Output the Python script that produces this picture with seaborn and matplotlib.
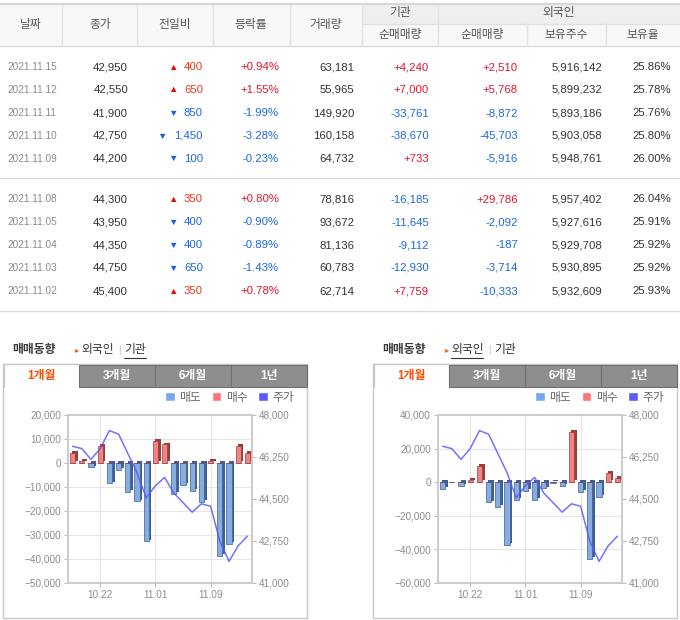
import numpy as np
import pandas as pd
import matplotlib
matplotlib.use("Agg")
import matplotlib.pyplot as plt
import seaborn as sns
from matplotlib import patheffects
from matplotlib.patches import Rectangle, Patch
from matplotlib.lines import Line2D
from matplotlib.ticker import StrMethodFormatter

sns.set_theme(style="white")
plt.rcParams["font.family"] = ["Liberation Sans", "Noto Sans CJK KR", "DejaVu Sans"]

# ---- table data (newest first) ----
dates = ["2021.11.15", "2021.11.12", "2021.11.11", "2021.11.10", "2021.11.09",
         "2021.11.08", "2021.11.05", "2021.11.04", "2021.11.03", "2021.11.02"]
close = [42950, 42550, 41900, 42750, 44200, 44300, 43950, 44350, 44750, 45400]
change = [400, 650, -850, -1450, -100, 350, -400, -400, -650, 350]
rate = [0.94, 1.55, -1.99, -3.28, -0.23, 0.80, -0.90, -0.89, -1.43, 0.78]
volume = [63181, 55965, 149920, 160158, 64732, 78816, 93672, 81136, 60783, 62714]
inst_net = [4240, 7000, -33761, -38670, 733, -16185, -11645, -9112, -12930, 7759]
frgn_net = [2510, 5768, -8872, -45703, -5916, 29786, -2092, -187, -3714, -10333]
frgn_hold = [5916142, 5899232, 5893186, 5903058, 5948761, 5957402, 5927616, 5929708, 5930895, 5932609]
frgn_ratio = [25.86, 25.78, 25.76, 25.80, 26.00, 26.04, 25.91, 25.92, 25.92, 25.93]

# ---- chart data (oldest first, 1 month) ----
chart_dates = ["10.19", "10.20", "10.21", "10.22", "10.25", "10.26", "10.27", "10.28", "10.29",
               "11.01", "11.02", "11.03", "11.04", "11.05", "11.08", "11.09", "11.10", "11.11",
               "11.12", "11.15"]
inst_chart = [4300, 900, -1800, 7000, -8500, -3000, -12000, -16000, -32700, 9200, 7759, -12930,
              -9112, -11645, -16185, 733, -38670, -33761, 7000, 4240]
frgn_chart = [-3800, 300, -2000, 1300, 9600, -12000, -14600, -37500, -10300, -5000, -10333, -3714,
              -187, -2092, 29786, -5916, -45703, -8872, 5768, 2510]
price = [46700, 46600, 46150, 46600, 47350, 47200, 46400, 45600, 44550, 45050, 45400, 44750,
         44350, 43950, 44300, 44200, 42750, 41900, 42550, 42950]
xtick_dates = ["10.22", "11.01", "11.09"]

W, H = 680, 620
fig = plt.figure(figsize=(6.8, 6.2), dpi=100)

RED = "#e8132b"
RED2 = "#e8381e"
BLUE = "#1d66e6"
DARK = "#333333"


def T(x, y, s, ha="left", size=8.5, color=DARK, weight="normal", **kw):
    return fig.text(x / W, 1 - y / H, s, ha=ha, va="center", size=size,
                    color=color, weight=weight, **kw)


def hline(x0, x1, y, color="#dddddd", lw=1.0):
    fig.add_artist(Line2D([x0 / W, x1 / W], [1 - y / H] * 2, color=color, lw=lw))


def vline(x, y0, y1, color="#e2e2e2", lw=1.0):
    fig.add_artist(Line2D([x / W] * 2, [1 - y0 / H, 1 - y1 / H], color=color, lw=lw))


def box(x, y, w, h, fc, ec="none", lw=0.8, z=0):
    fig.add_artist(Rectangle((x / W, 1 - (y + h) / H), w / W, h / H, facecolor=fc,
                             edgecolor=ec, lw=lw, transform=fig.transFigure, zorder=z))


# ---- table header ----
box(0, 4, 680, 42, "#f8f8f8")
box(362, 4, 318, 20, "#efefef")
hline(0, 680, 3.5, "#d6d6d6", 1.6)
hline(0, 680, 46, "#dddddd")
hline(362, 680, 24, "#e0e0e0")
for x in [62, 137, 213, 290, 362, 438]:
    vline(x, 4, 46)
for x in [527, 606]:
    vline(x, 24, 46)
hdr = [(31, "날짜"), (100, "종가"), (175, "전일비"), (251, "등락률"), (326, "거래량")]
for x, s in hdr:
    T(x, 25, s, ha="center", size=8.5, color="#555555")
T(400, 13, "기관", ha="center", size=8.5, color="#555555")
T(559, 13, "외국인", ha="center", size=8.5, color="#555555")
for x, s in [(400, "순매매량"), (482, "순매매량"), (566, "보유주수"), (643, "보유율")]:
    T(x, 35, s, ha="center", size=8.5, color="#555555")

# ---- table rows ----
row_y = [67, 90, 113, 136, 158.5, 199.5, 222, 245, 268, 291]
for i, y in enumerate(row_y):
    T(7, y, dates[i], size=7.2, color="#8a8a8a")
    T(128, y, f"{close[i]:,}", ha="right", size=8.2)
    c = change[i]
    tri = "\u25b2" if c > 0 else "\u25bc"
    col = RED2 if c > 0 else BLUE
    num = f"{abs(c):,}"
    T(203, y, num, ha="right", size=8.2, color=col)
    T(203 - 6.2 * len(num) + (1.5 if "," in num else 0) - 7, y, tri,
      ha="right", size=6.8, color="#dd1111" if c > 0 else "#1a5fd8")
    T(279, y, f"{rate[i]:+.2f}%", ha="right", size=8.2, color=RED if rate[i] > 0 else BLUE)
    T(354, y, f"{volume[i]:,}", ha="right", size=8.2)
    T(429, y, f"{inst_net[i]:+,}", ha="right", size=8.2, color=RED if inst_net[i] > 0 else BLUE)
    T(518, y, f"{frgn_net[i]:+,}", ha="right", size=8.2, color=RED if frgn_net[i] > 0 else BLUE)
    T(602, y, f"{frgn_hold[i]:,}", ha="right", size=8.2)
    T(671, y, f"{frgn_ratio[i]:.2f}%", ha="right", size=8.2)
hline(0, 680, 178.5, "#dcdcdc")
hline(0, 680, 310.5, "#dcdcdc")

# ---- trading trend charts ----
SELL_C, BUY_C, LINE_C = "#78a9ef", "#ff7474", "#5a5aff"


def trend_panel(ox, values, ylim, yticks, underline_frgn):
    # section title + links
    T(ox + 12, 350, "매매동향", size=8.5, weight="bold", color="#3a3a3a")
    T(ox + 75, 350, "\u25b8", size=6, color="#ff5a00", family="DejaVu Sans")
    T(ox + 81, 350, "외국인", size=8.5, color="#333333")
    T(ox + 118, 350, "|", size=7, color="#bbbbbb")
    T(ox + 124, 350, "기관", size=8.5, color="#333333")
    if underline_frgn:
        hline(ox + 81, ox + 113, 358, "#333333", 0.8)
    else:
        hline(ox + 124, ox + 146, 358, "#333333", 0.8)

    # panel + tabs
    box(ox + 3, 364, 304, 254, "white", "#c8c8c8", 1.0)
    tabs = [(4, 79, "1개월"), (79, 155, "3개월"), (155, 231, "6개월"), (231, 307, "1년")]
    for j, (a, b, lab) in enumerate(tabs):
        if j == 0:
            box(ox + a, 363.5, b - a, 23, "white", "none", z=1)
            vline(ox + a, 363.5, 387, "#c8c8c8")
            hline(ox + a, ox + b, 363.5, "#c8c8c8")
            T(ox + (a + b) / 2, 376, lab, ha="center", size=8.5, weight="bold", color="#ff4a00")
        else:
            box(ox + a, 365, b - a, 22, "#8e8e8e", "#6f6f6f", 0.8, z=1)
            T(ox + (a + b) / 2, 376, lab, ha="center", size=8.5, weight="bold", color="white")

    # axes
    ax = fig.add_axes([(ox + 68) / W, (H - 583) / H, 184 / W, 168 / H])
    sell = [min(v, 0) for v in values]
    buy = [max(v, 0) for v in values]
    df = pd.DataFrame({
        "date": chart_dates * 2,
        "kind": ["매도"] * len(chart_dates) + ["매수"] * len(chart_dates),
        "value": sell + buy,
    })
    sns.barplot(data=df, x="date", y="value", hue="kind", order=chart_dates,
                hue_order=["매도", "매수"], palette={"매도": SELL_C, "매수": BUY_C},
                dodge=False, width=0.58, legend=False, ax=ax, zorder=3)
    for p in ax.patches:
        fc = p.get_facecolor()
        side = "#3d5f92" if fc[2] > fc[0] else "#9c3b3b"
        p.set_edgecolor(side)
        p.set_linewidth(0.5)
        p.set_path_effects([patheffects.SimplePatchShadow(offset=(1.8, 1.3), shadow_rgbFace=side,
                                                          alpha=1.0),
                            patheffects.Normal()])
    ax.set_ylim(*ylim)
    ax.set_yticks(yticks)
    ax.yaxis.set_major_formatter(StrMethodFormatter("{x:,.0f}"))
    ax.set_xticks([chart_dates.index(d) for d in xtick_dates])
    ax.set_xticklabels(xtick_dates)
    ax.set_xlim(-0.5, len(chart_dates) - 0.5)
    ax.set_xlabel("")
    ax.set_ylabel("")
    ax.grid(True, color="#e6e6e6", lw=0.8)
    ax.set_axisbelow(True)
    for s in ax.spines.values():
        s.set_color("#cccccc")
    ax.tick_params(axis="both", labelsize=7.2, labelcolor="#8c8c8c", color="#bbbbbb",
                   length=3, width=0.8, pad=2, bottom=True, left=True)

    ax2 = ax.twinx()
    sns.lineplot(x=np.arange(len(chart_dates)), y=price, ax=ax2, color=LINE_C, lw=1.1,
                 alpha=0.85)
    ax2.set_ylim(41000, 48000)
    ax2.set_yticks([41000, 42750, 44500, 46250, 48000])
    ax2.yaxis.set_major_formatter(StrMethodFormatter("{x:,.0f}"))
    ax2.set_xlim(-0.5, len(chart_dates) - 0.5)
    ax2.grid(False)
    for s in ax2.spines.values():
        s.set_color("#cccccc")
    ax2.tick_params(axis="y", labelsize=7.2, labelcolor="#8c8c8c", color="#bbbbbb",
                    length=3, width=0.8, pad=2, right=True)

    handles = [Patch(facecolor=SELL_C), Patch(facecolor=BUY_C), Patch(facecolor=LINE_C)]
    leg = ax2.legend(handles, ["매도", "매수", "주가"], loc="center right",
                     bbox_to_anchor=((ox + 300) / W, 1 - 398 / H),
                     bbox_transform=fig.transFigure,
                     ncol=3, frameon=False, fontsize=8.5, handlelength=0.8, handleheight=0.8,
                     handletextpad=0.4, columnspacing=0.9, labelcolor="#666666", borderpad=0)
    leg.set_zorder(5)
    ax2.set_zorder(2)


trend_panel(0, inst_chart, (-50000, 20000), np.arange(-50000, 20001, 10000), False)
trend_panel(370, frgn_chart, (-60000, 40000), np.arange(-60000, 40001, 20000), True)

fig.savefig("out.png", dpi=100)
